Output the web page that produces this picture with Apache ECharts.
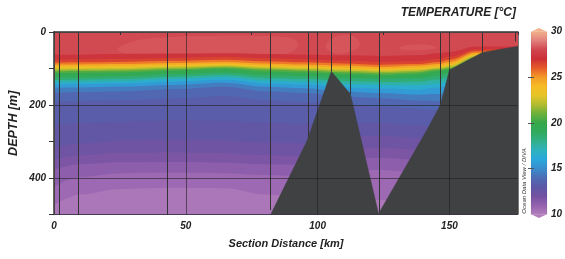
<!DOCTYPE html>
<html>
<head>
<meta charset="utf-8">
<script src="https://cdn.jsdelivr.net/npm/echarts@6/dist/echarts.min.js"></script>
<style>
html, body { margin: 0; padding: 0; background: #fff; }
#chart { width: 565px; height: 259px; }
</style>
</head>
<body>
<div id="chart"></div>
<script>
// columns along the section (km) where the isotherm depths were read
const distances = [0, 10, 25, 45, 65, 80, 95, 110, 125, 138, 146, 150, 160, 176]
// isotherms (°C) and their depth (m) at each column
const isoTemps = [27.5, 27, 26, 25, 24, 23, 22, 21, 20, 19, 18, 17, 16, 15, 14, 13.5, 13, 12.5, 12, 11.5, 11, 10.5]
const isoDepths = [
  [62, 62, 60, 59, 58, 60, 62, 64, 66, 64, 58, 55, 40, 40],
  [76, 75, 74, 71, 68, 72, 75, 78, 82, 80, 74, 68, 48, 46],
  [84, 83, 82, 79, 76, 80, 83, 86, 90, 88, 82, 76, 53, 50],
  [89, 89, 88, 85, 82, 86, 89, 92, 96, 92, 88, 82, 57, 54],
  [94, 94, 93, 90, 87, 91, 94, 98, 101, 97, 93, 88, 61, 58],
  [99, 99, 98, 94, 91, 95, 98, 102, 105, 102, 97, 92, 64, 62],
  [104, 103, 102, 98, 94, 99, 102, 106, 109, 106, 100, 96, 68, 66],
  [108, 107, 106, 102, 97, 103, 106, 110, 113, 110, 103, 99, 72, 70],
  [112, 112, 111, 106, 101, 108, 111, 115, 118, 115, 107, 103, 76, 74],
  [124, 124, 122, 116, 111, 118, 121, 126, 128, 126, 119, 113, 86, 84],
  [132, 131, 129, 123, 118, 126, 129, 135, 137, 136, 130, 124, 100, 96],
  [138, 137, 135, 129, 124, 133, 136, 143, 145, 146, 141, 135, 115, 110],
  [144, 143, 141, 136, 131, 141, 144, 152, 155, 158, 152, 148, 130, 125],
  [153, 152, 150, 145, 139, 150, 154, 163, 168, 172, 170, 168, 150, 145],
  [166, 165, 163, 157, 150, 162, 167, 177, 182, 188, 190, 190, 175, 170],
  [190, 189, 187, 182, 176, 186, 192, 200, 205, 210, 215, 215, 200, 195],
  [255, 250, 245, 242, 243, 248, 252, 248, 250, 255, 260, 260, 260, 260],
  [318, 305, 297, 295, 297, 303, 305, 285, 285, 290, 295, 295, 295, 295],
  [350, 338, 331, 330, 332, 337, 340, 318, 318, 322, 325, 325, 325, 325],
  [377, 362, 357, 356, 358, 362, 364, 345, 345, 350, 355, 355, 355, 355],
  [423, 397, 387, 385, 387, 392, 395, 378, 378, 385, 390, 390, 390, 390],
  [474, 445, 430, 427, 428, 445, 452, 455, 460, 465, 470, 470, 470, 470]
]
const surfaceTemp = 28.05
// slightly warmer near-surface patches [km, m]
const patchTemp = 28.25
const patches = [
  [[24, 48], [28, 30], [36, 18], [48, 12], [62, 10], [76, 10], [86, 13], [92, 24], [92, 45], [86, 62], [60, 66], [40, 64], [28, 60]],
  [[103, 40], [106, 15], [110, 8], [114, 14], [116, 35], [112, 55], [106, 58]],
  [[131, 42], [136, 34], [143, 36], [145, 44], [138, 50], [132, 49]]
]
// sea floor
const bottomDist = [82.2, 95.9, 105.2, 112.4, 123.1, 141.5, 146.6, 150, 162.5, 176]
const bottomDepth = [500, 300, 108, 170, 498, 268, 199, 104, 56, 39]
// stations: distance (km), deepest sample (m)
const stations = [[1.9, 500], [9.1, 500], [42.9, 500], [82.1, 488], [96.3, 300], [105.2, 108],
  [112.4, 170], [123.1, 495], [146.3, 200], [162.3, 57], [174.8, 26]]
// colour scale 10..30 °C, one colour per degree
const palette = ['#b47ebc', '#9462ae', '#7452a2', '#5c58a6', '#4e6cb4', '#3a8ccc', '#2aa8dc',
  '#2eb2c0', '#32b08c', '#30aa5c', '#36a84a', '#6cb03c', '#b0bc30', '#e6c428', '#f6bc24',
  '#f29a28', '#e65a2a', '#cc2e36', '#d0464f', '#e2807c', '#f2b28c']
const scaleTicks = [10, 15, 20, 25, 30]

function hexRgb (h) {
  return [1, 3, 5].map(i => parseInt(h.substr(i, 2), 16))
}
function tempColor (t) {
  const p = Math.max(0, Math.min(20, t - 10))
  const i = Math.min(19, Math.floor(p))
  const f = p - i
  const a = hexRgb(palette[i])
  const b = hexRgb(palette[i + 1])
  return 'rgb(' + a.map((v, k) => Math.round(v + (b[k] - v) * f)).join(',') + ')'
}

const font = { fontFamily: 'Liberation Sans', fontWeight: 'bold', fontStyle: 'italic', color: '#222' }

const bandSeries = isoTemps.map((t, k) => {
  const bandT = k < isoTemps.length - 1 ? (t + isoTemps[k + 1]) / 2 : t - 0.25
  return {
    type: 'line',
    data: distances.map((d, j) => [d, isoDepths[k][j]]),
    smooth: 0.35,
    smoothMonotone: 'x',
    symbol: 'none',
    silent: true,
    z: 2,
    lineStyle: { width: 0 },
    areaStyle: { color: tempColor(bandT), opacity: 1, origin: 'end' }
  }
})

const chart = echarts.init(document.getElementById('chart'))
chart.setOption({
  animation: false,
  title: {
    text: 'TEMPERATURE [°C]',
    right: 49,
    top: 7,
    padding: 0,
    textStyle: Object.assign({}, font, { fontSize: 12 })
  },
  graphic: [{
    type: 'text',
    x: 524,
    y: 181,
    rotation: Math.PI / 2,
    style: {
      text: 'Ocean Data View / DIVA',
      fontSize: 6,
      fontStyle: 'italic',
      fontFamily: 'Liberation Sans',
      fill: '#333',
      align: 'center',
      verticalAlign: 'middle'
    }
  }],
  grid: [{
    left: 54, top: 32, width: 464, height: 182.5,
    show: true, backgroundColor: tempColor(surfaceTemp), borderWidth: 0,
    outerBoundsMode: 'none'
  }, {
    left: 531, top: 31.7, width: 16, height: 182.6, outerBoundsMode: 'none'
  }],
  xAxis: [{
    type: 'value', gridIndex: 0, position: 'bottom', min: 0, max: 176, interval: 25, z: 10,
    name: 'Section Distance [km]', nameLocation: 'middle', nameGap: 24, nameMoveOverlap: false,
    nameTextStyle: Object.assign({}, font, { fontSize: 11 }),
    axisLine: { lineStyle: { color: '#333', width: 1.5 } },
    axisTick: { length: 3, lineStyle: { color: '#333' } },
    axisLabel: Object.assign({}, font, { fontSize: 10, margin: 7, formatter: v => (v % 50 === 0 ? v : '') }),
    splitLine: { show: false }
  }, {
    type: 'value', gridIndex: 0, position: 'top', min: 0, max: 176, interval: 50, z: 10,
    axisLine: { lineStyle: { color: '#444', width: 1 } },
    axisTick: { show: false },
    axisLabel: { show: false },
    splitLine: { show: true, lineStyle: { color: 'rgba(30,30,30,0.75)', width: 0.8 } }
  }, {
    type: 'value', gridIndex: 1, min: 0, max: 1, show: false
  }],
  yAxis: [{
    type: 'value', gridIndex: 0, position: 'left', inverse: true, min: 0, max: 500, interval: 100, z: 10,
    name: 'DEPTH [m]', nameLocation: 'middle', nameGap: 34, nameRotate: 90, nameMoveOverlap: false,
    nameTextStyle: Object.assign({}, font, { fontSize: 12.5 }),
    axisLine: { lineStyle: { color: '#333', width: 1.5 } },
    axisTick: { length: 5, lineStyle: { color: '#333' } },
    axisLabel: Object.assign({}, font, { fontSize: 10, margin: 8, formatter: v => (v % 200 === 0 ? v : '') }),
    splitLine: { show: false }
  }, {
    type: 'value', gridIndex: 0, position: 'right', inverse: true, min: 0, max: 500, interval: 200, z: 10,
    axisLine: { show: true, lineStyle: { color: '#444', width: 1 } },
    axisTick: { show: false },
    axisLabel: { show: false },
    splitLine: { show: true, lineStyle: { color: 'rgba(30,30,30,0.75)', width: 0.8 } }
  }, {
    type: 'value', gridIndex: 1, position: 'right', min: 10, max: 30, interval: 5, z: 10,
    axisLine: { show: false },
    axisTick: { inside: true, length: 3, customValues: [15, 20, 25], lineStyle: { color: '#555' } },
    axisLabel: Object.assign({}, font, { fontSize: 10, margin: 4, customValues: scaleTicks }),
    splitLine: { show: false }
  }, {
    type: 'value', gridIndex: 1, position: 'left', min: 10, max: 30, interval: 5, z: 10,
    axisLine: { show: false },
    axisTick: { inside: true, length: 3, customValues: [15, 20, 25], lineStyle: { color: '#555' } },
    axisLabel: { show: false },
    splitLine: { show: false }
  }],
  series: [{
    type: 'custom',
    silent: true,
    z: 1,
    data: patches.map((p, i) => [i]),
    renderItem: (params, api) => ({
      type: 'polygon',
      shape: { points: patches[params.dataIndex].map(p => api.coord(p)), smooth: 0.4 },
      style: { fill: tempColor(patchTemp) }
    })
  }].concat(bandSeries, [{
    type: 'custom',
    silent: true,
    z: 3,
    data: stations,
    renderItem: (params, api) => {
      const a = api.coord([api.value(0), 0])
      const b = api.coord([api.value(0), api.value(1)])
      const x = Math.round(a[0]) + 0.5
      return {
        type: 'line',
        shape: { x1: x, y1: a[1], x2: x, y2: b[1] },
        style: { stroke: '#333', lineWidth: 1 }
      }
    }
  }, {
    type: 'line',
    data: bottomDist.map((d, i) => [d, bottomDepth[i]]),
    symbol: 'none',
    silent: true,
    z: 4,
    lineStyle: { width: 0.5, color: '#3f4142' },
    areaStyle: { color: '#3f4142', opacity: 1, origin: 'end' }
  }, {
    type: 'custom',
    silent: true,
    xAxisIndex: 2,
    yAxisIndex: 2,
    data: [[0]],
    renderItem: (params, api) => {
      const tl = api.coord([0, 30])
      const br = api.coord([1, 10])
      const n = palette.length - 1
      return {
        type: 'group',
        children: [{
          type: 'rect',
          shape: { x: tl[0], y: tl[1], width: br[0] - tl[0], height: br[1] - tl[1] },
          style: {
            fill: {
              type: 'linear', x: 0, y: 0, x2: 0, y2: 1,
              colorStops: palette.map((c, i) => ({ offset: i / n, color: palette[n - i] }))
            },
            stroke: 'rgba(0,0,0,0.12)',
            lineWidth: 0.5
          }
        }, {
          type: 'polygon',
          shape: { points: [api.coord([0, 30]), api.coord([0.5, 30.4]), api.coord([1, 30])] },
          style: { fill: palette[n] }
        }, {
          type: 'polygon',
          shape: { points: [api.coord([0, 10]), api.coord([0.5, 9.6]), api.coord([1, 10])] },
          style: { fill: palette[0] }
        }]
      }
    }
  }])
})
</script>
</body>
</html>
